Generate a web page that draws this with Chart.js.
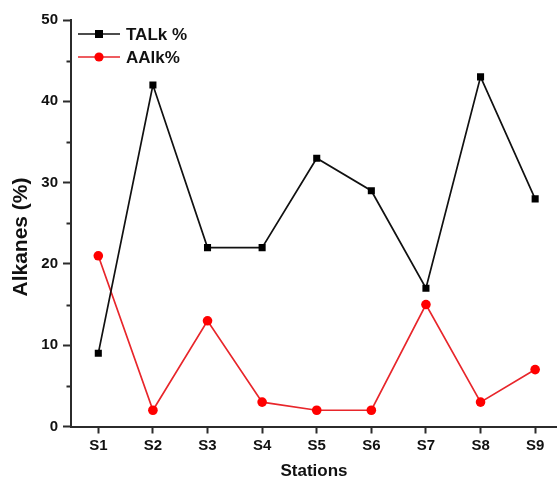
<!DOCTYPE html>
<html>
<head>
<meta charset="utf-8">
<script src="https://cdn.jsdelivr.net/npm/chart.js@4.4.1/dist/chart.umd.min.js"></script>
<style>
  html, body { margin: 0; padding: 0; background: #fff; }
  #wrap { width: 557px; height: 479px; position: relative; }
</style>
</head>
<body>
<div id="wrap"><canvas id="c" width="557" height="479"></canvas></div>
<script>
// Sampling stations and alkane percentages per station
const stations = ['S1', 'S2', 'S3', 'S4', 'S5', 'S6', 'S7', 'S8', 'S9'];
const talk = [9, 42, 22, 22, 33, 29, 17, 43, 28];
const aalk = [21, 2, 13, 3, 2, 2, 15, 3, 7];
const yTicks = [0, 10, 20, 30, 40, 50];
const yMinorTicks = [5, 15, 25, 35, 45];
const yTitle = 'Alkanes (%)';

const FONT = '"Liberation Sans", Arial, sans-serif';
const AXIS_COLOR = '#2b2b2b';

const toPoints = arr => arr.map((v, i) => ({ x: i + 1, y: v }));

// Minor ticks, value-axis title and the legend drawn inside the plot area
const extras = {
  id: 'extras',
  afterDraw(chart) {
    const ctx = chart.ctx;
    const y = chart.scales.y;
    const left = chart.chartArea.left;
    ctx.save();
    ctx.strokeStyle = AXIS_COLOR;
    ctx.lineWidth = 2;
    yMinorTicks.forEach(v => {
      const py = Math.round(y.getPixelForValue(v)) + 0.5;
      ctx.beginPath();
      ctx.moveTo(left - 4.5, py);
      ctx.lineTo(left, py);
      ctx.stroke();
    });

    // value-axis title
    ctx.save();
    ctx.translate(21, 237);
    ctx.rotate(-Math.PI / 2);
    ctx.fillStyle = '#111';
    ctx.font = 'bold 21px ' + FONT;
    ctx.textAlign = 'center';
    ctx.textBaseline = 'middle';
    ctx.fillText(yTitle, 0, 0);
    ctx.restore();

    // legend
    const rows = [
      { ds: chart.data.datasets[0], y: 34 },
      { ds: chart.data.datasets[1], y: 57 }
    ];
    rows.forEach(r => {
      const ds = r.ds;
      ctx.strokeStyle = ds.borderColor;
      ctx.lineWidth = ds.borderWidth;
      ctx.beginPath();
      ctx.moveTo(78, r.y);
      ctx.lineTo(120, r.y);
      ctx.stroke();
      ctx.fillStyle = ds.pointBackgroundColor;
      if (ds.pointStyle === 'rect') {
        ctx.fillRect(99 - 4, r.y - 4, 8, 8);
      } else {
        ctx.beginPath();
        ctx.arc(99, r.y, 4.6, 0, Math.PI * 2);
        ctx.fill();
      }
      ctx.fillStyle = '#111';
      ctx.font = 'bold 17px ' + FONT;
      ctx.textBaseline = 'middle';
      ctx.textAlign = 'left';
      ctx.fillText(ds.label, 126, r.y + 1);
    });
    ctx.restore();
  }
};

new Chart(document.getElementById('c'), {
  type: 'line',
  data: {
    datasets: [
      {
        label: 'TALk %',
        data: toPoints(talk),
        borderColor: '#111111',
        backgroundColor: '#111111',
        pointBackgroundColor: '#000000',
        pointBorderColor: '#000000',
        borderWidth: 1.7,
        pointStyle: 'rect',
        pointRadius: 5,
        pointBorderWidth: 0,
        tension: 0
      },
      {
        label: 'AAlk%',
        data: toPoints(aalk),
        borderColor: '#e8262b',
        backgroundColor: '#ff0000',
        pointBackgroundColor: '#ff0000',
        pointBorderColor: '#ff0000',
        borderWidth: 1.7,
        pointStyle: 'circle',
        pointRadius: 4.8,
        pointBorderWidth: 0,
        tension: 0
      }
    ]
  },
  options: {
    responsive: false,
    animation: false,
    events: [],
    layout: { autoPadding: false, padding: { top: 20, right: 0, left: 0, bottom: 0 } },
    plugins: {
      legend: { display: false },
      tooltip: { enabled: false }
    },
    scales: {
      x: {
        type: 'linear',
        min: 0.5,
        max: 9.4,
        afterBuildTicks(scale) {
          scale.ticks = stations.map((s, i) => ({ value: i + 1 }));
        },
        afterFit(scale) { scale.height = 52.5; },
        ticks: {
          callback: (v) => stations[v - 1] || '',
          color: '#111',
          font: { family: FONT, size: 15, weight: 'bold' },
          padding: 3,
          maxRotation: 0,
          autoSkip: false
        },
        grid: {
          drawOnChartArea: false,
          drawTicks: true,
          tickLength: 7,
          tickWidth: 2,
          tickColor: AXIS_COLOR
        },
        border: { display: true, color: AXIS_COLOR, width: 2 },
        title: {
          display: true,
          text: 'Stations',
          color: '#111',
          font: { family: FONT, size: 17, weight: 'bold' },
          padding: { top: 4, bottom: -3 }
        }
      },
      y: {
        min: 0,
        max: 50,
        afterBuildTicks(scale) {
          scale.ticks = yTicks.map(v => ({ value: v }));
        },
        afterFit(scale) { scale.width = 71; },
        ticks: {
          color: '#111',
          font: { family: FONT, size: 15, weight: 'bold' },
          padding: 5
        },
        grid: {
          drawOnChartArea: false,
          drawTicks: true,
          tickLength: 8,
          tickWidth: 2,
          tickColor: AXIS_COLOR
        },
        border: { display: true, color: AXIS_COLOR, width: 2 }
      }
    }
  },
  plugins: [extras]
});
</script>
</body>
</html>
